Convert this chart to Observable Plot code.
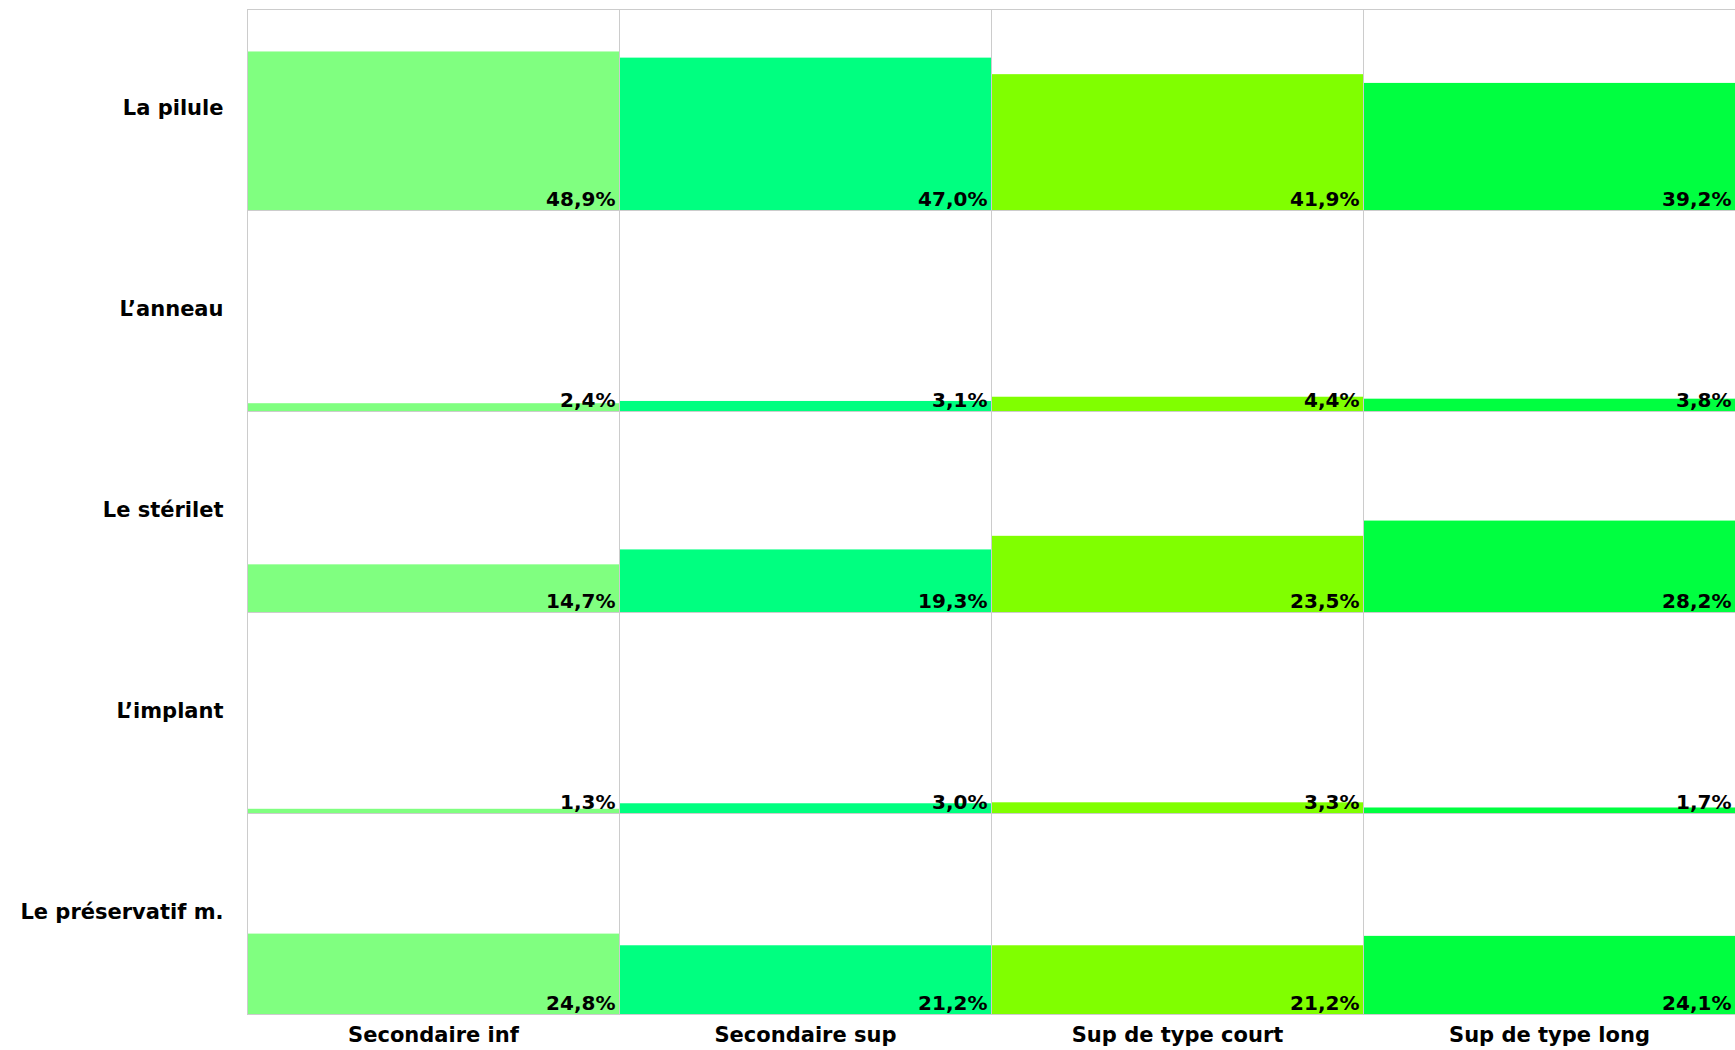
<!DOCTYPE html>
<html>
<head>
<meta charset="utf-8">
<script src="https://cdn.jsdelivr.net/npm/d3@7"></script>
<script src="https://cdn.jsdelivr.net/npm/@observablehq/plot@0.6"></script>
<style>
  html, body { margin: 0; padding: 0; background: #fff; }
</style>
</head>
<body>
<div id="chart"></div>
<script>
const methods = ["La pilule", "L’anneau", "Le stérilet", "L’implant", "Le préservatif m."];
const levels = ["Secondaire inf", "Secondaire sup", "Sup de type court", "Sup de type long"];
const secondaireInf = [48.9, 2.4, 14.7, 1.3, 24.8];
const secondaireSup = [47.0, 3.1, 19.3, 3.0, 21.2];
const supCourt = [41.9, 4.4, 23.5, 3.3, 21.2];
const supLong = [39.2, 3.8, 28.2, 1.7, 24.1];
const levelColors = ["#80ff80", "#00ff80", "#80ff00", "#00ff40"];

const series = [secondaireInf, secondaireSup, supCourt, supLong];
const data = [];
levels.forEach((lev, i) => {
  methods.forEach((m, j) => {
    data.push({level: lev, method: m, value: series[i][j]});
  });
});

const fmt = v => v.toFixed(1).replace(".", ",") + "%";

const chart = Plot.plot({
  width: 1735,
  height: 1050,
  marginTop: 8,
  marginBottom: 35,
  marginLeft: 246,
  marginRight: 0,
  style: {fontFamily: "DejaVu Sans", fontWeight: "bold", fontSize: "21px", color: "#000", background: "#fff"},
  fx: {domain: levels, padding: 0, label: null},
  fy: {domain: methods, padding: 0, label: null},
  y: {domain: [0, 62], axis: null},
  color: {domain: levels, range: levelColors},
  marks: [
    Plot.barY(data, {fx: "level", fy: "method", y: "value", fill: "level"}),
    Plot.frame({stroke: "#cccccc", strokeWidth: 1}),
    Plot.text(data, {
      fx: "level", fy: "method",
      text: d => fmt(d.value),
      frameAnchor: "bottom-right",
      dx: -4, dy: -5,
      fontSize: 20, fontWeight: "bold", fill: "#000"
    }),
    Plot.axisFx({anchor: "bottom", tickSize: 0, tickPadding: 13, fontSize: 21, fontWeight: "bold", label: null}),
    Plot.axisFy({anchor: "left", tickSize: 0, tickPadding: 24, dy: -2, fontSize: 21, fontWeight: "bold", label: null})
  ]
});
document.getElementById("chart").appendChild(chart);
</script>
</body>
</html>
